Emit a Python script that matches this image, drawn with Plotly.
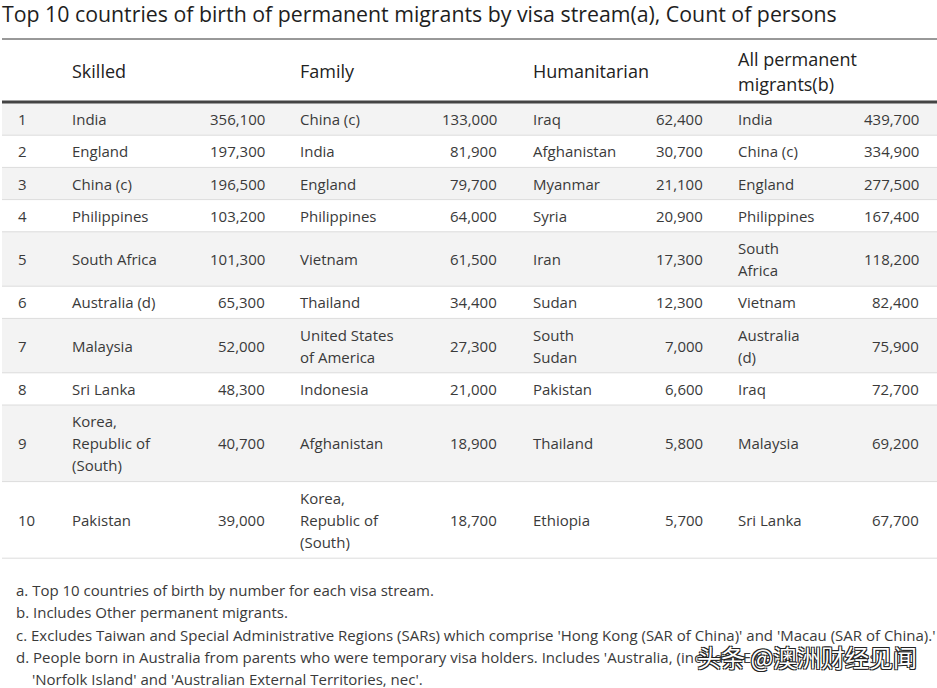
import plotly.graph_objects as go

title = "Top 10 countries of birth of permanent migrants by visa stream(a), Count of persons"
headers = ["Skilled", "Family", "Humanitarian", "All permanent<br>migrants(b)"]
ranks = [str(i) for i in range(1, 11)]

skilled_country = ["India", "England", "China (c)", "Philippines", "South Africa", "Australia (d)",
                   "Malaysia", "Sri Lanka", "Korea,<br>Republic of<br>(South)", "Pakistan"]
skilled_value = [356100, 197300, 196500, 103200, 101300, 65300, 52000, 48300, 40700, 39000]

family_country = ["China (c)", "India", "England", "Philippines", "Vietnam", "Thailand",
                  "United States<br>of America", "Indonesia", "Afghanistan", "Korea,<br>Republic of<br>(South)"]
family_value = [133000, 81900, 79700, 64000, 61500, 34400, 27300, 21000, 18900, 18700]

human_country = ["Iraq", "Afghanistan", "Myanmar", "Syria", "Iran", "Sudan",
                 "South<br>Sudan", "Pakistan", "Thailand", "Ethiopia"]
human_value = [62400, 30700, 21100, 20900, 17300, 12300, 7000, 6600, 5800, 5700]

all_country = ["India", "China (c)", "England", "Philippines", "South<br>Africa", "Vietnam",
               "Australia<br>(d)", "Iraq", "Malaysia", "Sri Lanka"]
all_value = [439700, 334900, 277500, 167400, 118200, 82400, 75900, 72700, 69200, 67700]

footnotes = [
    "a. Top 10 countries of birth by number for each visa stream.",
    "b. Includes Other permanent migrants.",
    "c. Excludes Taiwan and Special Administrative Regions (SARs) which comprise 'Hong Kong (SAR of China)' and 'Macau (SAR of China).'",
    "d. People born in Australia from parents who were temporary visa holders. Includes 'Australia, (includes External Territories)',",
    "   'Norfolk Island' and 'Australian External Territories, nec'.",
]
watermark = "头条 @澳洲财经见闻"

W, H = 937, 688
FONT = "Open Sans, Noto Sans, sans-serif"
TXT = "#3a3a3a"

fig = go.Figure()
fig.add_trace(go.Scatter(x=[0, W], y=[0, H], mode="markers", marker=dict(opacity=0),
                         hoverinfo="skip", showlegend=False))

shapes = []
ann = []

def text(x, y, s, size=15, color=TXT, anchor="left", **kw):
    ann.append(dict(x=x, y=y, xref="x", yref="y", text=s, showarrow=False,
                    xanchor=anchor, yanchor="middle", borderpad=0, borderwidth=0,
                    font=dict(family=FONT, size=size, color=color, **kw)))

def multiline(x, yc, s, size=15, spacing=22, anchor="left", color=TXT):
    lines = s.split("<br>")
    n = len(lines)
    for i, ln in enumerate(lines):
        text(x, yc + (i - (n - 1) / 2) * spacing, ln, size=size, anchor=anchor, color=color)

# title
text(2, 13, title, size=21.3, color="#1e1e1e")

# layout geometry (layout, not data)
x_left, x_right = 2, W
top_line = 39
head_bottom = 102
country_x = [72, 300, 533, 738]
value_x = [265, 497, 703, 919]
rank_x = 18

shapes.append(dict(type="line", xref="x", yref="y", x0=x_left, x1=x_right, y0=top_line, y1=top_line,
                   line=dict(color="#333333", width=1)))

header_yc = (top_line + head_bottom) / 2 + 0.5
for hx, h in zip(country_x, headers):
    multiline(hx, header_yc, h, size=18, spacing=25, color="#222222")

columns = [(skilled_country, skilled_value), (family_country, family_value),
           (human_country, human_value), (all_country, all_value)]

y = head_bottom + 1
for r in range(10):
    nlines = max(len(c[r].split("<br>")) for c, _ in columns)
    h = 32.2 + 22.2 * (nlines - 1)
    if r % 2 == 0:
        shapes.append(dict(type="rect", xref="x", yref="y", x0=x_left, x1=x_right, y0=y, y1=y + h,
                           fillcolor="#f3f3f3", line=dict(width=0), layer="below"))
    shapes.append(dict(type="line", xref="x", yref="y", x0=x_left, x1=x_right, y0=y + h, y1=y + h,
                       line=dict(color="#dcdcdc", width=1)))
    yc = y + h / 2
    text(rank_x, yc, ranks[r])
    for (cs, vs), cx, vx in zip(columns, country_x, value_x):
        multiline(cx, yc, cs[r])
        text(vx, yc, f"{vs[r]:,}", anchor="right")
    y += h

shapes.append(dict(type="line", xref="x", yref="y", x0=x_left, x1=x_right, y0=head_bottom, y1=head_bottom,
                   line=dict(color="#444444", width=3)))

# footnotes
fy = 590
for i, fn in enumerate(footnotes):
    fx = 32 if fn.startswith("   ") else 16
    text(fx, fy + i * 22.3, fn.strip(), size=15)

# watermark
ann.append(dict(x=697, y=656, xref="x", yref="y", text=watermark, showarrow=False,
                xanchor="left", yanchor="middle", borderpad=0, borderwidth=0,
                font=dict(family="Noto Sans CJK SC", size=24, color="#ffffff",
                          shadow="1px 1px 0 #222, -1px -1px 0 #222, 1px -1px 0 #222, -1px 1px 0 #222")))

fig.update_layout(
    width=W, height=H, margin=dict(l=0, r=0, t=0, b=0, pad=0),
    paper_bgcolor="white", plot_bgcolor="white",
    xaxis=dict(range=[0, W], visible=False, fixedrange=True),
    yaxis=dict(range=[H, 0], visible=False, fixedrange=True),
    shapes=shapes, annotations=ann, showlegend=False,
)

fig.write_html("out.html", config={"displayModeBar": False},
               post_script="document.body.style.margin='0';document.body.style.overflow='hidden';")
